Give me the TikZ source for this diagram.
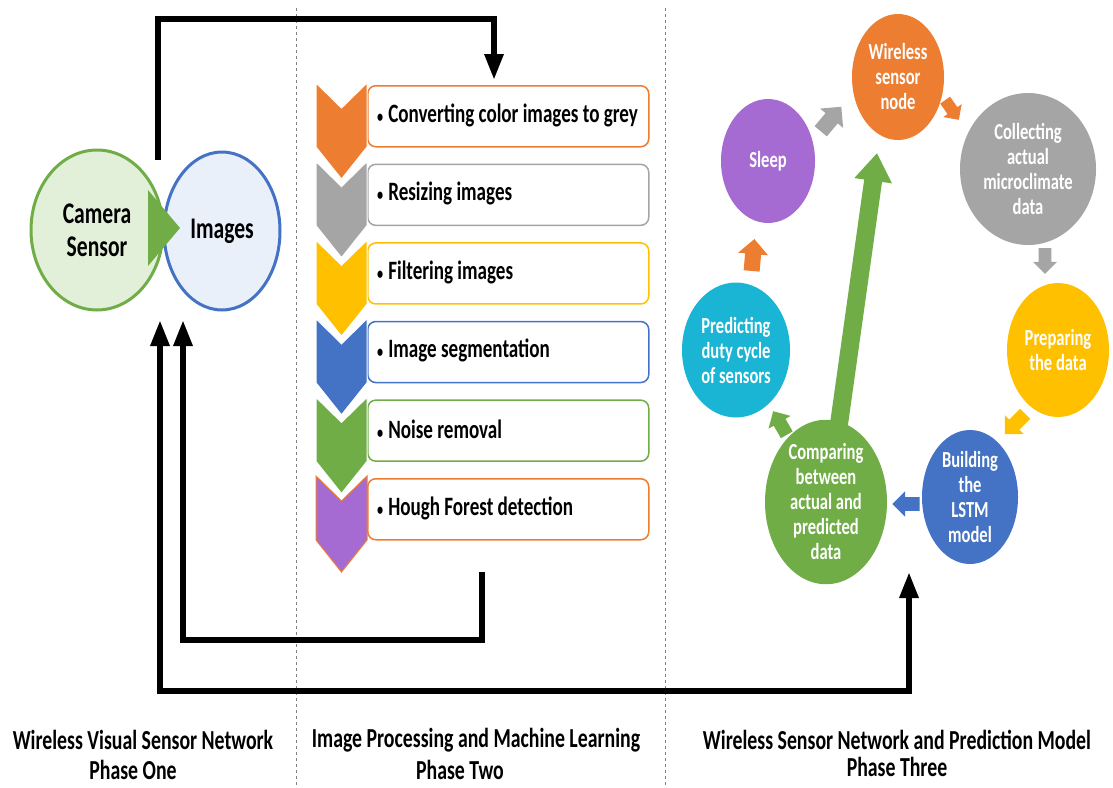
\documentclass[tikz,border=0pt]{standalone}
\usepackage{fontspec}
\setmainfont{Carlito}[FakeStretch=0.72]
\usetikzlibrary{shapes.geometric,arrows.meta}

\definecolor{acorange}{HTML}{ED7D31}
\definecolor{acgray}{HTML}{A5A5A5}
\definecolor{acyellow}{HTML}{FFC000}
\definecolor{acblue}{HTML}{4472C4}
\definecolor{acgreen}{HTML}{70AD47}
\definecolor{acpurple}{HTML}{A66BD3}
\definecolor{accyan}{HTML}{1AB4D4}
\definecolor{palegreen}{HTML}{E2F0D9}
\definecolor{paleblue}{HTML}{EAF0FA}

\newcommand{\smallbullet}{{\fontsize{17}{17}\selectfont\textbullet}\hspace{5pt}}

\tikzset{
    flow/.style={line width=6pt, -{Triangle[width=18pt,length=26pt]}},
    bigflow/.style={line width=18pt, acgreen, -{Triangle[width=36pt,length=28pt]}},
    bubble/.style={ellipse, line width=3pt, inner sep=0pt, align=center,
        font=\bfseries\fontsize{30}{33}\selectfont},
    itembox/.style={rectangle, rounded corners=8pt, fill=white, line width=1.5pt,
        minimum width=281pt, minimum height=61pt},
    itemtext/.style={inner sep=0pt, anchor=west, font=\bfseries\fontsize{26.5}{28}\selectfont},
    stage/.style={ellipse, inner sep=0pt, text=white, align=center,
        font=\bfseries\fontsize{23}{25}\selectfont},
    pics/turn/.style={code={
        \fill[#1] (-16,-8) -- (1,-8) -- (1,-15) -- (16,0) -- (1,15) -- (1,8) -- (-16,8) -- cycle;
    }},
    caption/.style={font=\bfseries\fontsize{27.5}{30}\selectfont}
}

\begin{document}
\begin{tikzpicture}[x=1pt,y=-1pt]
\useasboundingbox (0,0) rectangle (1113,787);

% phase separators
\draw[dashed, gray] (296,8) -- (296,787);
\draw[dashed, gray] (665,8) -- (665,787);

% phase one
\node[bubble, draw=acblue, fill=paleblue, minimum width=116pt, minimum height=158pt] (img) at (222,231) {Images};
\node[bubble, draw=acgreen, fill=palegreen, minimum width=132pt, minimum height=160pt] (cam) at (97,230) {Camera\\Sensor};
\fill[acgreen] (148,190) -- (180,228) -- (148,266) -- cycle;

% phase two
\foreach \c/\b/\o/\t [count=\i from 0] in {
    acorange/acorange/white/Converting color images to grey,
    acgray/acgray/white/Resizing images,
    acyellow/acyellow/white/Filtering images,
    acblue/acblue/white/Image segmentation,
    acgreen/acgreen/white/Noise removal,
    acpurple/acorange/acorange/Hough Forest detection}
{
    \pgfmathsetmacro\yy{85+78.6*\i}
    \node[itembox, draw=\b, anchor=north west] (box\i) at (367,\yy) {};
    \node[itemtext] (txt\i) at (377,\yy+30) {\smallbullet\t};
    \filldraw[fill=\c, draw=\o, line width=1pt] (316,\yy-2) -- (341.5,\yy+23) -- (367,\yy-2)
        -- (367,\yy+62) -- (341.5,\yy+94) -- (316,\yy+62) -- cycle;
}

% phase three
\node[stage, fill=acorange, minimum width=92pt, minimum height=126pt] (wsn) at (898,77) {Wireless\\sensor\\node};
\node[stage, fill=acgray, minimum width=136pt, minimum height=152pt] (coll) at (1028,169) {Collecting\\actual\\microclimate\\data};
\node[stage, fill=acyellow, minimum width=102pt, minimum height=134pt] (prep) at (1058,350) {Preparing\\the data};
\node[stage, fill=acblue, minimum width=96pt, minimum height=134pt] (build) at (970,497) {Building\\the\\LSTM\\model};
\node[stage, fill=acgreen, minimum width=122pt, minimum height=150pt] (comp) at (826,502) {Comparing\\between\\actual and\\predicted\\data};
\node[stage, fill=accyan, minimum width=108pt, minimum height=135pt] (pred) at (736,350) {Predicting\\duty cycle\\of sensors};
\node[stage, fill=acpurple, minimum width=94pt, minimum height=124pt] (sleep) at (768,161) {Sleep};

\pic[rotate=50] at (831,119) {turn=acgray};
\pic[rotate=-55, scale=0.75] at (952,110) {turn=acorange};
\pic[rotate=-90, scale=0.8] at (1045,261) {turn=acgray};
\pic[rotate=-135, scale=0.9] at (1015,424) {turn=acyellow};
\pic[rotate=180, scale=0.85] at (906,504) {turn=acblue};
\pic[rotate=120, scale=0.85] at (780,423) {turn=acgreen};
\pic[rotate=85] at (753,255) {turn=acorange};

\coordinate (g0) at (839,424);
\coordinate (g1) at (877,153);
\draw[bigflow] (g0) -- (g1);

% feedback loops
\coordinate (a0) at (158,160);
\coordinate (a1) at (158,19);
\coordinate (a2) at (494,19);
\coordinate (a3) at (494,80);
\draw[flow] (a0) -- (a1) -- (a2) -- (a3);

\coordinate (b0) at (482,572);
\coordinate (b1) at (482,640);
\coordinate (b2) at (183,640);
\coordinate (b3) at (183,320);
\draw[flow] (b0) -- (b1) -- (b2) -- (b3);

\coordinate (c0) at (160,320);
\coordinate (c1) at (160,691);
\coordinate (c2) at (909,691);
\coordinate (c3) at (909,572);
\draw[flow, {Triangle[width=18pt,length=26pt]}-{Triangle[width=18pt,length=26pt]}] (c0) -- (c1) -- (c2) -- (c3);

% phase captions
\node[caption] (p1a) at (143,740) {Wireless Visual Sensor Network};
\node[caption] (p1b) at (133,770) {Phase One};
\node[caption] (p2a) at (476,740) {Image Processing and Machine Learning};
\node[caption] (p2b) at (460,770) {Phase Two};
\node[caption] (p3a) at (897,740) {Wireless Sensor Network and Prediction Model};
\node[caption] (p3b) at (897,767) {Phase Three};
\end{tikzpicture}
\end{document}
